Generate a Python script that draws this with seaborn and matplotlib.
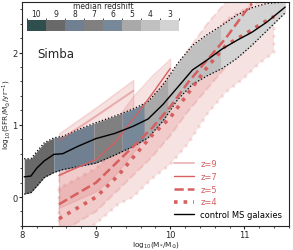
import numpy as np
import matplotlib
matplotlib.use("Agg")
import matplotlib.pyplot as plt
import seaborn as sns
from matplotlib.colors import ListedColormap, BoundaryNorm

# -----------------------------
# Data
# -----------------------------
control_mass = [8.03, 8.12, 8.2, 8.3, 8.43, 8.55, 8.75, 9.0, 9.25, 9.5, 9.7, 9.9,
                10.1, 10.3, 10.5, 10.7, 10.9, 11.1, 11.3, 11.55]
control_med = [0.28, 0.29, 0.40, 0.50, 0.59, 0.60, 0.70, 0.81, 0.88, 0.98, 1.08, 1.28,
               1.52, 1.76, 1.90, 2.05, 2.17, 2.28, 2.42, 2.63]
control_hi = [0.53, 0.53, 0.63, 0.75, 0.82, 0.84, 0.93, 1.03, 1.12, 1.22, 1.32, 1.55,
              1.85, 2.10, 2.25, 2.38, 2.52, 2.62, 2.68, 2.70]
control_lo = [0.04, 0.06, 0.15, 0.27, 0.34, 0.38, 0.42, 0.47, 0.58, 0.70, 0.82, 1.05,
              1.35, 1.56, 1.68, 1.78, 1.92, 2.10, 2.30, 2.55]

# mass ranges of the band segments, coloured by median redshift
seg_edges = [8.03, 8.43, 8.97, 9.35, 9.65, 9.97, 10.68, 11.55]
seg_colors = ["dimgray", "slategray", "gray", "lightslategray", "darkgray", "silver", "lightgray"]

cbar_labels = ["10", "9", "8", "7", "6", "5", "4", "3"]
cbar_colors = ["darkslategray", "dimgray", "slategray", "gray", "lightslategray",
               "darkgray", "silver", "lightgray"]

z9_mass = [8.5, 9.0, 9.5]
z9_med = [0.78, 1.12, 1.47]
z9_lo = [0.30, 0.62, 0.98]
z9_hi = [0.88, 1.24, 1.62]

z7_mass = [8.5, 9.0, 9.25, 9.5, 9.75, 10.0]
z7_med = [0.30, 0.52, 0.75, 1.08, 1.42, 1.78]
z7_lo = [-0.15, 0.08, 0.30, 0.62, 0.98, 1.35]
z7_hi = [0.62, 0.85, 1.05, 1.40, 1.68, 1.92]

z5_mass = [8.5, 9.0, 9.25, 9.5, 9.75, 10.0, 10.25, 10.5, 10.75, 11.0, 11.1]
z5_med = [-0.10, 0.20, 0.45, 0.70, 0.95, 1.25, 1.60, 1.90, 2.20, 2.55, 2.68]
z5_lo = [-0.50, -0.20, 0.05, 0.30, 0.55, 0.85, 1.20, 1.50, 1.80, 2.15, 2.28]
z5_hi = [0.30, 0.60, 0.85, 1.10, 1.38, 1.70, 2.05, 2.40, 2.70, 2.90, 2.95]

z4_mass = [8.5, 9.0, 9.3, 9.5, 9.75, 10.0, 10.25, 10.5, 10.75, 11.0, 11.2, 11.4]
z4_med = [-0.30, 0.00, 0.30, 0.55, 0.85, 1.10, 1.45, 1.80, 2.10, 2.25, 2.38, 2.50]
z4_lo = [-0.70, -0.37, -0.10, 0.00, 0.25, 0.45, 0.75, 1.15, 1.45, 1.65, 1.85, 2.00]
z4_hi = [0.12, 0.40, 0.70, 0.95, 1.25, 1.50, 1.85, 2.15, 2.45, 2.60, 2.70, 2.80]

red = "#d65f5f"

# -----------------------------
# Style
# -----------------------------
sns.set_style("ticks")
plt.rcParams["font.family"] = ["DejaVu Sans"]
plt.rcParams.update({
    "xtick.labelsize": 6,
    "ytick.labelsize": 6,
    "axes.labelsize": 5.3,
    "axes.linewidth": 0.8,
    "xtick.major.size": 2.0,
    "ytick.major.size": 2.0,
    "xtick.minor.size": 1.1,
    "ytick.minor.size": 1.1,
})

fig = plt.figure(figsize=(2.93, 2.51), dpi=100)
ax = fig.add_axes([0.075, 0.096, 0.911, 0.892])

# red shaded ranges (below the control band)
series = [
    ("z=9", z9_mass, z9_med, z9_lo, z9_hi, "-", 1.5, 0.4),
    ("z=7", z7_mass, z7_med, z7_lo, z7_hi, "-", 1.0, 1.0),
    ("z=5", z5_mass, z5_med, z5_lo, z5_hi, "--", 1.8, 1.0),
    ("z=4", z4_mass, z4_med, z4_lo, z4_hi, ":", 2.6, 1.0),
]
for lab, m, med, lo, hi, ls, lw, a in series:
    ax.fill_between(m, lo, hi, color=red, alpha=0.18, linestyle=ls,
                    linewidth=lw * 0.8, edgecolor=(0.84, 0.37, 0.37, 0.2), zorder=1)

# control band, split into redshift-coloured segments
for i, col in enumerate(seg_colors):
    xs = np.linspace(seg_edges[i], seg_edges[i + 1], 30)
    ax.fill_between(xs, np.interp(xs, control_mass, control_lo),
                    np.interp(xs, control_mass, control_hi),
                    color=col, linewidth=0, zorder=2)
ax.plot(control_mass, control_hi, color="black", linestyle=":", linewidth=0.9, zorder=3)
ax.plot(control_mass, control_lo, color="black", linestyle=":", linewidth=0.9, zorder=3)

# median lines
for lab, m, med, lo, hi, ls, lw, a in series:
    sns.lineplot(x=m, y=med, ax=ax, color=red, alpha=a, linestyle=ls,
                 linewidth=lw, label=lab, zorder=4)
sns.lineplot(x=control_mass, y=control_med, ax=ax, color="black", linewidth=1.0,
             label="control MS galaxies", zorder=5)

ax.set_xlim(8.0, 11.6)
ax.set_ylim(-0.4, 2.7)
ax.set_xticks([8, 9, 10, 11])
ax.set_yticks([0, 1, 2])
ax.minorticks_on()
ax.set_xlabel(r"log$_{10}$(M$_{*}$/M$_{\odot}$)")
ax.set_ylabel(r"log$_{10}$(SFR/M$_{\odot}$/yr$^{-1}$)")
ax.xaxis.set_label_coords(0.5, -0.06)
ax.yaxis.set_label_coords(-0.035, 0.5)
ax.tick_params(pad=1.0)

ax.text(8.2, 1.99, "Simba", fontsize=8.5, va="center")

leg = ax.legend(loc="lower right", frameon=False, fontsize=6, labelcolor="linecolor",
                handlelength=2.4, borderaxespad=0.4, labelspacing=0.45)

# redshift colour bar
cax = fig.add_axes([0.092, 0.873, 0.519, 0.044])
cmap = ListedColormap(cbar_colors)
norm = BoundaryNorm(np.arange(len(cbar_colors) + 1), cmap.N)
cb = fig.colorbar(plt.cm.ScalarMappable(norm=norm, cmap=cmap), cax=cax,
                  orientation="horizontal", ticks=np.arange(len(cbar_colors)) + 0.5)
cb.outline.set_visible(False)
cax.xaxis.set_ticks_position("top")
cax.xaxis.set_label_position("top")
cb.set_ticklabels(cbar_labels)
cax.tick_params(labelsize=5.5, length=0, pad=1.2)
cb.set_label("median redshift", fontsize=5.5, labelpad=1)

fig.savefig("out.png", dpi=100)
